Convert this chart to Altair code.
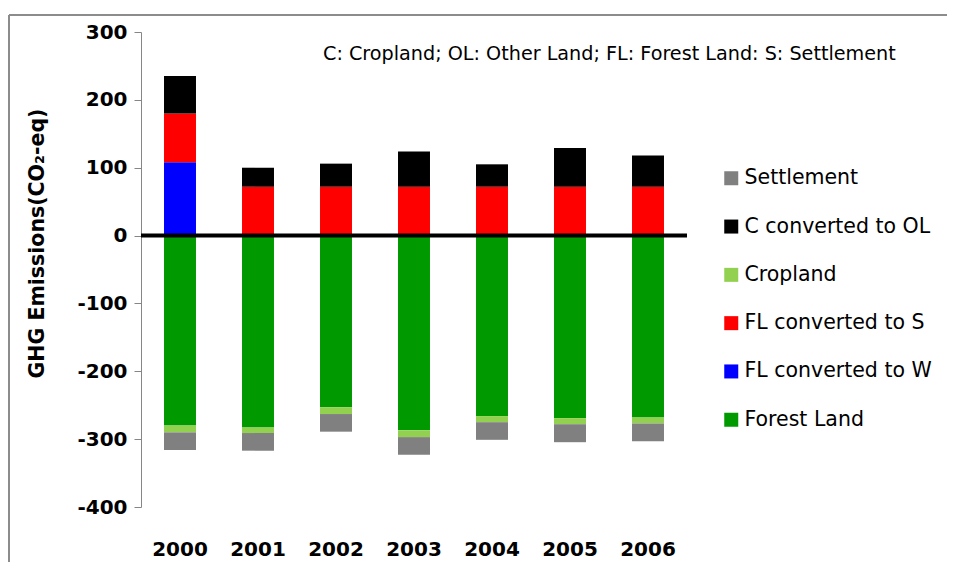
import altair as alt
import pandas as pd

years = ["2000", "2001", "2002", "2003", "2004", "2005", "2006"]
forest_land = [-280, -283, -253, -287, -266, -269, -268]
fl_to_w = [108, 0, 0, 0, 0, 0, 0]
fl_to_s = [72, 72, 72, 72, 72, 72, 72]
cropland = [-10, -8, -10, -10, -9, -9, -9]
c_to_ol = [55, 28, 34, 52, 33, 57, 46]
settlement = [-26, -26, -26, -26, -26, -26.5, -26]

legend_order = ["Settlement", "C converted to OL", "Cropland",
                "FL converted to S", "FL converted to W", "Forest Land"]
colors = ["#808080", "#000000", "#92D050", "#FF0000", "#0000FF", "#009900"]
stack_order = ["Forest Land", "FL converted to W", "FL converted to S",
               "Cropland", "C converted to OL", "Settlement"]
series = {
    "Forest Land": forest_land,
    "FL converted to W": fl_to_w,
    "FL converted to S": fl_to_s,
    "Cropland": cropland,
    "C converted to OL": c_to_ol,
    "Settlement": settlement,
}
y_ticks = [-400, -300, -200, -100, 0, 100, 200, 300]
note = "C: Cropland; OL: Other Land; FL: Forest Land: S: Settlement"

rows = []
for name in stack_order:
    for yr, v in zip(years, series[name]):
        rows.append({"Year": yr, "Category": name, "Value": v,
                     "order": stack_order.index(name)})
df = pd.DataFrame(rows)

FONT = "DejaVu Sans"

bars = alt.Chart(df).mark_bar().encode(
    x=alt.X("Year:N", sort=years,
            scale=alt.Scale(paddingInner=0.59, paddingOuter=0.295),
            axis=alt.Axis(title=None, domain=False, ticks=False, labelAngle=0,
                          labelFont=FONT, labelFontSize=20, labelFontWeight="bold",
                          labelColor="black", labelPadding=32)),
    y=alt.Y("Value:Q", stack="zero",
            scale=alt.Scale(domain=[-400, 300], nice=False),
            axis=alt.Axis(title="GHG Emissions(CO₂-eq)", values=y_ticks,
                          labelExpr="'' + datum.value",
                          grid=False, domainColor="#868686", tickColor="#868686",
                          tickSize=7, labelPadding=7,
                          labelFont=FONT, labelFontSize=20, labelFontWeight="bold",
                          labelColor="black",
                          titleFont=FONT, titleFontSize=20.5, titleFontWeight="bold",
                          titleColor="black", titleX=-104, titleY=211,
                          titleAlign="center", titleBaseline="middle")),
    color=alt.Color("Category:N",
                    scale=alt.Scale(domain=legend_order, range=colors),
                    legend=alt.Legend(title=None, orient="none", legendX=580, legendY=136,
                                      symbolType="square", symbolSize=196,
                                      symbolStrokeWidth=0, labelFont=FONT,
                                      labelFontSize=20.5, labelColor="black",
                                      labelLimit=0, labelOffset=3, rowPadding=27.3)),
    order=alt.Order("order:Q"),
)

zero_line = alt.Chart(pd.DataFrame({"y": [0]})).mark_rule(
    color="black", strokeWidth=4).encode(y="y:Q")

note_text = alt.Chart(pd.DataFrame({"t": [note]})).mark_text(
    align="left", baseline="alphabetic", font=FONT, fontSize=19.2, color="black"
).encode(text="t:N", x=alt.value(182), y=alt.value(28))

border_top = alt.Chart(pd.DataFrame({"a": [0]})).mark_rule(
    color="#8c8c8c", strokeWidth=2).encode(
    x=alt.value(-132), x2=alt.value(900), y=alt.value(-17))
border_left = alt.Chart(pd.DataFrame({"a": [0]})).mark_rule(
    color="#8c8c8c", strokeWidth=2).encode(
    x=alt.value(-132), y=alt.value(-17), y2=alt.value(600))

chart = alt.layer(border_top, border_left, bars, zero_line, note_text).properties(
    width=546, height=475,
    background="white",
    autosize=alt.AutoSizeParams(type="none"),
    padding={"left": 133, "top": 24, "right": 260, "bottom": 55},
).configure_view(stroke="transparent", strokeWidth=0)

chart.save("out.html", embed_options={"renderer": "svg", "actions": False})
